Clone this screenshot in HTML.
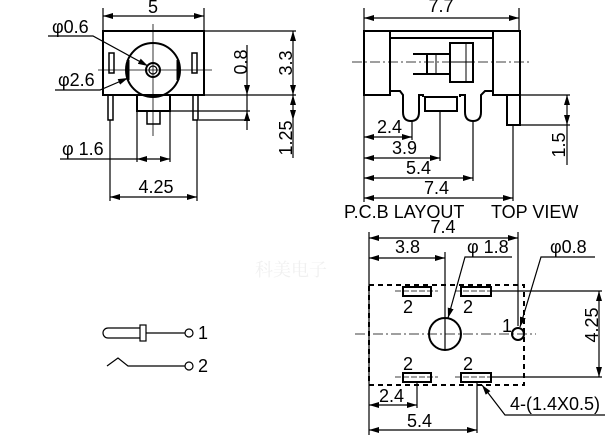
<!DOCTYPE html>
<html><head><meta charset="utf-8"><style>
html,body{margin:0;padding:0;background:#fff;width:606px;height:437px;overflow:hidden}
svg{display:block}
text{font-family:"Liberation Sans",Arial,sans-serif;font-size:18px;fill:#000}
</style></head><body>
<svg width="606" height="437" viewBox="0 0 606 437" xmlns="http://www.w3.org/2000/svg">
<defs>
<marker id="a" viewBox="0 0 10 6" refX="10" refY="3" markerWidth="10" markerHeight="6" orient="auto-start-reverse" markerUnits="userSpaceOnUse"><path d="M0,0 L10,3 L0,6 z" fill="#000"/></marker>
</defs>
<g stroke="#000" fill="none" stroke-width="1.2">
<!-- FRONT VIEW -->
<line x1="103" y1="8" x2="103" y2="31"/><line x1="204" y1="8" x2="204" y2="31"/>
<line x1="103" y1="16" x2="204" y2="16" marker-start="url(#a)" marker-end="url(#a)"/>
<rect x="103" y="31" width="101" height="64" stroke-width="2"/>
<line x1="153" y1="24" x2="153" y2="136" stroke-width="0.8"/>
<line x1="98" y1="70" x2="212" y2="70" stroke-width="0.8"/>
<circle cx="153" cy="70" r="27" stroke-width="2"/>
<circle cx="153" cy="70" r="7" stroke-width="2"/>
<circle cx="153" cy="70" r="4"/>
<rect x="109" y="53" width="5" height="20" stroke-width="1.5"/>
<rect x="192" y="53" width="5" height="20" stroke-width="1.5"/>
<path d="M128,60 L128,80" stroke-width="3"/><path d="M178,60 L178,80" stroke-width="3"/>
<rect x="137" y="95" width="33" height="16" stroke-width="2"/>
<rect x="147" y="111" width="13" height="13" stroke-width="1.5"/>
<rect x="108" y="95" width="5" height="25" stroke-width="1.5"/>
<rect x="193" y="95" width="5" height="25" stroke-width="1.5"/>
<line x1="204" y1="31" x2="296" y2="31"/><line x1="204" y1="95" x2="296" y2="95"/>
<line x1="293" y1="31" x2="293" y2="95" marker-start="url(#a)" marker-end="url(#a)"/>
<line x1="170" y1="111" x2="250" y2="111"/><line x1="199" y1="120" x2="250" y2="120"/>
<line x1="247" y1="45" x2="247" y2="95" marker-end="url(#a)"/>
<line x1="247" y1="130" x2="247" y2="111" marker-end="url(#a)"/>
<line x1="247" y1="95" x2="247" y2="111"/>
<line x1="293" y1="95" x2="293" y2="120" marker-start="url(#a)" marker-end="url(#a)"/>
<line x1="293" y1="120" x2="293" y2="158"/>
<line x1="137" y1="111" x2="137" y2="162"/><line x1="170" y1="111" x2="170" y2="162"/>
<line x1="60" y1="159" x2="137" y2="159"/>
<line x1="137" y1="159" x2="170" y2="159" marker-start="url(#a)" marker-end="url(#a)"/>
<line x1="110" y1="120" x2="110" y2="201"/><line x1="197" y1="120" x2="197" y2="201"/>
<line x1="110" y1="197" x2="197" y2="197" marker-start="url(#a)" marker-end="url(#a)"/>
<polyline points="48,36 93,36 148,66" marker-end="url(#a)"/>
<polyline points="55,90 100,90 128,78" marker-end="url(#a)"/>

<!-- SIDE VIEW -->
<line x1="364" y1="8" x2="364" y2="31"/><line x1="519" y1="8" x2="519" y2="31"/>
<line x1="364" y1="18" x2="519" y2="18" marker-start="url(#a)" marker-end="url(#a)"/>
<g stroke-width="2">
<rect x="364" y="31" width="26" height="64"/>
<rect x="493" y="31" width="27" height="64"/>
<line x1="390" y1="31" x2="493" y2="31"/>
<line x1="390" y1="38" x2="493" y2="38"/>
<path d="M390,91 L400,91 L403,95 L403,112 Q403,121 411,121 Q419,121 419,112 L419,95 L423,95 L423,97"/>
<path d="M460,97 L460,95 L465,95 L465,112 Q465,121 473,121 Q481,121 481,112 L481,95 L485,91 L493,91"/>
<rect x="425" y="97" width="32" height="14"/>
<rect x="507" y="95" width="13" height="30"/>
<rect x="450" y="43" width="23" height="39"/>
<rect x="427" y="54" width="23" height="20"/>
<line x1="413" y1="54" x2="427" y2="54"/><line x1="413" y1="74" x2="427" y2="74"/>
<line x1="436" y1="54" x2="436" y2="74" stroke-width="1"/>
<line x1="450" y1="62" x2="473" y2="62" stroke-width="1"/>
<line x1="466" y1="43" x2="466" y2="82" stroke-width="1"/>
</g>
<line x1="352" y1="62" x2="532" y2="62" stroke-width="0.8" stroke-dasharray="10,3,2,3"/>
<line x1="364" y1="95" x2="364" y2="202"/>
<line x1="412" y1="121" x2="412" y2="140"/>
<line x1="440" y1="111" x2="440" y2="161"/>
<line x1="473" y1="121" x2="473" y2="181"/>
<line x1="513" y1="125" x2="513" y2="201"/>
<line x1="364" y1="137" x2="412" y2="137" marker-start="url(#a)" marker-end="url(#a)"/>
<line x1="364" y1="158" x2="440" y2="158" marker-start="url(#a)" marker-end="url(#a)"/>
<line x1="364" y1="178" x2="473" y2="178" marker-start="url(#a)" marker-end="url(#a)"/>
<line x1="364" y1="198" x2="513" y2="198" marker-start="url(#a)" marker-end="url(#a)"/>
<line x1="520" y1="95" x2="570" y2="95"/><line x1="520" y1="125" x2="570" y2="125"/>
<line x1="567" y1="95" x2="567" y2="125" marker-start="url(#a)" marker-end="url(#a)"/>
<line x1="567" y1="125" x2="567" y2="165"/>

<!-- PCB LAYOUT -->
<line x1="369" y1="232" x2="369" y2="435"/><line x1="518" y1="232" x2="518" y2="326"/>
<line x1="369" y1="238" x2="518" y2="238" marker-start="url(#a)" marker-end="url(#a)"/>
<line x1="445" y1="252" x2="445" y2="350"/>
<line x1="369" y1="258" x2="445" y2="258" marker-start="url(#a)" marker-end="url(#a)"/>
<rect x="369" y="285" width="155" height="100" stroke-width="2" stroke-dasharray="5,4"/>
<g stroke-width="2">
<rect x="403" y="287" width="28" height="9"/><rect x="461" y="287" width="30" height="9"/>
<rect x="403" y="373" width="28" height="9"/><rect x="461" y="373" width="30" height="9"/>
<circle cx="445" cy="334" r="16"/><circle cx="518" cy="334" r="6"/>
</g>
<line x1="355" y1="334" x2="536" y2="334" stroke-width="0.8" stroke-dasharray="10,3,2,3"/>
<line x1="395" y1="291" x2="438" y2="291" stroke-width="0.8" stroke-dasharray="6,2"/>
<line x1="455" y1="291" x2="498" y2="291" stroke-width="0.8" stroke-dasharray="6,2"/>
<line x1="395" y1="377" x2="438" y2="377" stroke-width="0.8" stroke-dasharray="6,2"/>
<line x1="455" y1="377" x2="498" y2="377" stroke-width="0.8" stroke-dasharray="6,2"/>
<line x1="491" y1="291" x2="602" y2="291"/><line x1="491" y1="377" x2="602" y2="377"/>
<line x1="599" y1="291" x2="599" y2="377" marker-start="url(#a)" marker-end="url(#a)"/>
<line x1="417" y1="382" x2="417" y2="408"/><line x1="477" y1="382" x2="477" y2="433"/>
<line x1="369" y1="405" x2="417" y2="405" marker-start="url(#a)" marker-end="url(#a)"/>
<line x1="369" y1="430" x2="477" y2="430" marker-start="url(#a)" marker-end="url(#a)"/>
<polyline points="512,257 465,257 448,318" marker-end="url(#a)"/>
<polyline points="595,257 541,257 520,327" marker-end="url(#a)"/>
<polyline points="605,415 505,415 482,385" marker-end="url(#a)"/>

<path d="M140,328 L108,328 A5,5 0 0 0 108,338 L140,338"/>
<rect x="140" y="325" width="6" height="16"/>
<line x1="146" y1="333" x2="185" y2="333"/>
<circle cx="189" cy="333" r="4"/>
<polyline points="107,366 118,358 128,366 185,366"/>
<circle cx="189" cy="366" r="4"/>
</g>
<text x="255" y="276" style="font-family:'Noto Serif CJK SC',serif;font-size:18px;fill:#f0f0f0">科美电子</text>
<text x="153" y="13" text-anchor="middle">5</text>
<text x="52" y="33">φ0.6</text>
<text x="58" y="86">φ2.6</text>
<text x="62" y="155">φ 1.6</text>
<text x="156" y="193" text-anchor="middle">4.25</text>
<text transform="translate(247,62) rotate(-90)" text-anchor="middle">0.8</text>
<text transform="translate(292,63) rotate(-90)" text-anchor="middle">3.3</text>
<text transform="translate(292,138) rotate(-90)" text-anchor="middle">1.25</text>
<text x="441" y="12" text-anchor="middle">7.7</text>
<text x="377" y="133">2.4</text>
<text x="392" y="154">3.9</text>
<text x="406" y="174">5.4</text>
<text x="424" y="194">7.4</text>
<text transform="translate(565,145) rotate(-90)" text-anchor="middle">1.5</text>
<text x="344" y="218">P.C.B LAYOUT</text>
<text x="491" y="218">TOP VIEW</text>
<text x="443" y="233" text-anchor="middle">7.4</text>
<text x="395" y="253">3.8</text>
<text x="467" y="253">φ 1.8</text>
<text x="550" y="253">φ0.8</text>
<text x="403" y="313">2</text><text x="463" y="313">2</text>
<text x="403" y="370">2</text><text x="463" y="370">2</text>
<text x="502" y="332">1</text>
<text transform="translate(598,325) rotate(-90)" text-anchor="middle">4.25</text>
<text x="379" y="402">2.4</text>
<text x="407" y="427">5.4</text>
<text x="510" y="410">4-(1.4X0.5)</text>
<text x="198" y="339">1</text>
<text x="198" y="372">2</text>
</svg>
</body></html>
